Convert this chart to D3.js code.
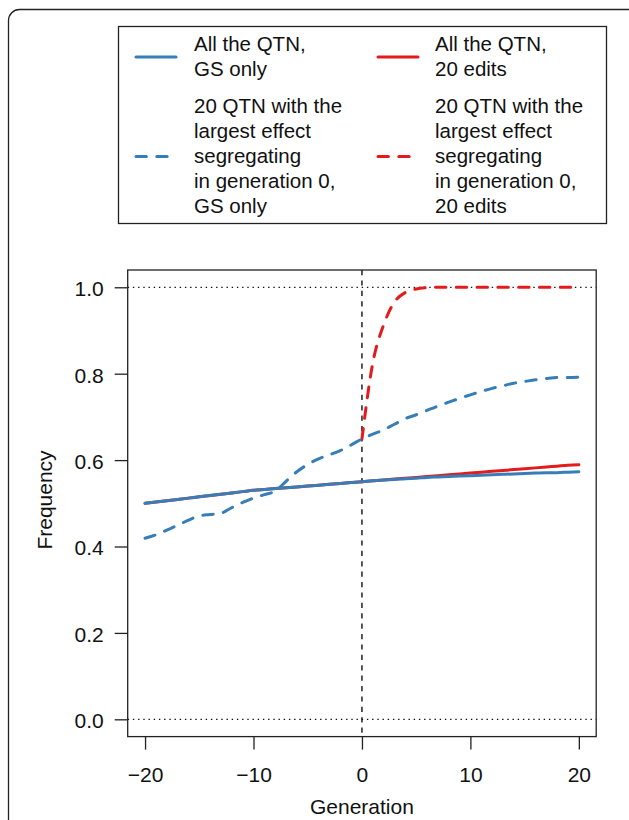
<!DOCTYPE html>
<html>
<head>
<meta charset="utf-8">
<script src="https://cdn.jsdelivr.net/npm/d3@7"></script>
<style>
  body { margin: 0; background: #fff; }
  svg { display: block; font-family: "Liberation Sans", Arial, Helvetica, sans-serif; }
  .axis text { font-size: 21px; fill: #111; }
  .axis path, .axis line { stroke: #222; stroke-width: 1.3; }
</style>
</head>
<body>
<div id="chart-area"></div>
<script>

/* data */
const generations = d3.range(-20, 21);

// All the QTN, GS only
const allGS = [0.500, 0.503, 0.506, 0.509, 0.512, 0.515, 0.518, 0.521, 0.524, 0.527,
    0.530, 0.532, 0.534, 0.536, 0.538, 0.540, 0.542, 0.544, 0.546, 0.548,
    0.550, 0.552, 0.554, 0.555, 0.557, 0.558, 0.560, 0.561, 0.562, 0.563,
    0.564, 0.565, 0.566, 0.567, 0.568, 0.569, 0.570, 0.571, 0.571, 0.572, 0.573];

// All the QTN, 20 edits (same as GS only before generation 0)
const allEdits = [0.500, 0.503, 0.506, 0.509, 0.512, 0.515, 0.518, 0.521, 0.524, 0.527,
    0.530, 0.532, 0.534, 0.536, 0.538, 0.540, 0.542, 0.544, 0.546, 0.548,
    0.550, 0.552, 0.554, 0.556, 0.558, 0.560, 0.562, 0.564, 0.566, 0.568,
    0.570, 0.572, 0.574, 0.576, 0.578, 0.580, 0.582, 0.584, 0.586, 0.588, 0.589];

// 20 QTN with the largest effect, GS only
const topGS = [0.419, 0.427, 0.438, 0.449, 0.461, 0.471, 0.474, 0.477, 0.490, 0.502,
    0.512, 0.520, 0.528, 0.551, 0.573, 0.590, 0.603, 0.612, 0.622, 0.635,
    0.649, 0.660, 0.670, 0.683, 0.696, 0.705, 0.715, 0.725, 0.734, 0.743,
    0.751, 0.759, 0.766, 0.772, 0.778, 0.782, 0.786, 0.789, 0.791, 0.791, 0.792];

// 20 QTN with the largest effect, 20 edits (starts at generation 0)
const topEdits = [null, null, null, null, null, null, null, null, null, null,
    null, null, null, null, null, null, null, null, null, null,
    0.649, 0.825, 0.913, 0.966, 0.988, 0.996, 0.999, 1.000, 1.000, 1.000,
    1.000, 1.000, 1.000, 1.000, 1.000, 1.000, 1.000, 1.000, 1.000, 1.000, 1.000];

const xTicks = [-20, -10, 0, 10, 20];
const yTicks = [0, 0.2, 0.4, 0.6, 0.8, 1.0];

const legendLabels = [
    ["All the QTN,", "GS only"],
    ["All the QTN,", "20 edits"],
    ["20 QTN with the", "largest effect", "segregating", "in generation 0,", "GS only"],
    ["20 QTN with the", "largest effect", "segregating", "in generation 0,", "20 edits"]
];

/* graphical constants */
const BLUE = "#377eb8";
const RED = "#e41a1c";
const W = 629, H = 820;
const plot = { left: 127.7, right: 596.2, top: 270, bottom: 736.6 };

const svg = d3.select("#chart-area")
    .append("svg")
    .attr("width", W)
    .attr("height", H);

// outer rounded frame
svg.append("rect")
    .attr("x", 8.5).attr("y", 9.5)
    .attr("width", 640).attr("height", 900)
    .attr("rx", 11)
    .attr("fill", "none")
    .attr("stroke", "#222")
    .attr("stroke-width", 1.3);

// scales, R style 4% padding
const x = d3.scaleLinear().domain([-21.6, 21.6]).range([plot.left, plot.right]);
const y = d3.scaleLinear().domain([-0.04, 1.04]).range([plot.bottom, plot.top]);

// reference lines
svg.selectAll(".hline")
    .data([0, 1])
    .enter().append("line")
    .attr("x1", plot.left).attr("x2", plot.right)
    .attr("y1", d => y(d)).attr("y2", d => y(d))
    .attr("stroke", "#111")
    .attr("stroke-width", 1.3)
    .attr("stroke-dasharray", "1.4,3.8");

svg.append("line")
    .attr("x1", x(0)).attr("x2", x(0))
    .attr("y1", plot.top).attr("y2", plot.bottom)
    .attr("stroke", "#111")
    .attr("stroke-width", 1.4)
    .attr("stroke-dasharray", "5.2,5.2");

// series
const series = [
    { values: allEdits, color: RED, dashed: false },
    { values: topEdits, color: RED, dashed: true },
    { values: allGS, color: BLUE, dashed: false },
    { values: topGS, color: BLUE, dashed: true }
];

const line = d3.line()
    .defined(d => d[1] != null)
    .x(d => x(d[0]))
    .y(d => y(d[1]))
    .curve(d3.curveMonotoneX);

svg.selectAll(".series")
    .data(series)
    .enter().append("path")
    .attr("class", "series")
    .attr("d", s => line(generations.map((g, i) => [g, s.values[i]])))
    .attr("fill", "none")
    .attr("stroke", s => s.color)
    .attr("stroke-width", 3)
    .attr("stroke-linecap", "round")
    .attr("stroke-dasharray", s => s.dashed ? "10.4,10.4" : null);

// box
svg.append("rect")
    .attr("x", plot.left).attr("y", plot.top)
    .attr("width", plot.right - plot.left)
    .attr("height", plot.bottom - plot.top)
    .attr("fill", "none")
    .attr("stroke", "#222")
    .attr("stroke-width", 1.3);

// axes
const xAxisGroup = svg.append("g")
    .attr("class", "axis")
    .attr("transform", "translate(0," + plot.bottom + ")")
    .call(d3.axisBottom(x).tickValues(xTicks).tickSize(13).tickSizeOuter(0).tickPadding(18));

const yAxisGroup = svg.append("g")
    .attr("class", "axis")
    .attr("transform", "translate(" + plot.left + ",0)")
    .call(d3.axisLeft(y).tickValues(yTicks).tickSize(13).tickSizeOuter(0).tickPadding(11)
        .tickFormat(d3.format(".1f")));
yAxisGroup.selectAll("text").attr("dy", "0.4em");
xAxisGroup.selectAll("text").attr("dy", "0.68em");
xAxisGroup.select(".domain").remove();
yAxisGroup.select(".domain").remove();

// axis titles
svg.append("text")
    .attr("x", x(0)).attr("y", 814)
    .attr("text-anchor", "middle")
    .attr("font-size", "21px")
    .attr("fill", "#111")
    .text("Generation");

svg.append("text")
    .attr("transform", "translate(52," + 500 + ") rotate(-90)")
    .attr("text-anchor", "middle")
    .attr("font-size", "21px")
    .attr("fill", "#111")
    .text("Frequency");

// legend
svg.append("rect")
    .attr("x", 118.5).attr("y", 26.5)
    .attr("width", 488).attr("height", 197)
    .attr("fill", "#fff")
    .attr("stroke", "#222")
    .attr("stroke-width", 1.3);

const LINE_H = 25;
const legendItems = [
    { col: 0, base: 51, s: series[2] },
    { col: 1, base: 51, s: series[0] },
    { col: 0, base: 113, s: series[3] },
    { col: 1, base: 113, s: series[1] }
];
const cols = [{ x1: 136, x2: 176, tx: 194 }, { x1: 378, x2: 418, tx: 435 }];

legendItems.forEach((item, i) => {
    const c = cols[item.col];
    const lines = legendLabels[i];
    const mid = item.base + (lines.length - 1) * LINE_H / 2 - 6.5;
    svg.append("line")
        .attr("x1", c.x1).attr("x2", c.x2)
        .attr("y1", mid).attr("y2", mid)
        .attr("stroke", item.s.color)
        .attr("stroke-width", 3)
        .attr("stroke-linecap", "round")
        .attr("stroke-dasharray", item.s.dashed ? "10.4,10.4" : null);
    svg.append("text")
        .attr("font-size", "20.5px")
        .attr("fill", "#111")
        .selectAll("tspan")
        .data(lines)
        .enter().append("tspan")
        .attr("x", c.tx)
        .attr("y", (d, j) => item.base + j * LINE_H)
        .text(d => d);
});

</script>
</body>
</html>
